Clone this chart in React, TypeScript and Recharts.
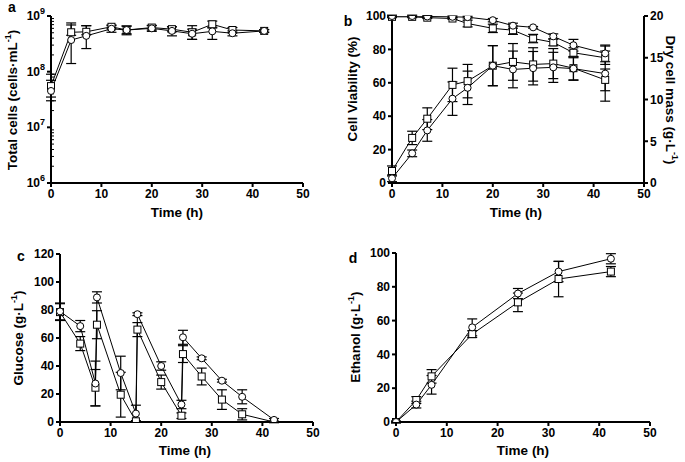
import React from 'react';
import { LineChart, Line, XAxis, YAxis, ErrorBar } from 'recharts';

const FONT = '"Liberation Sans", Arial, Helvetica, sans-serif';

// a: total cells (log scale)
const timeA = [0, 4, 7, 12, 15, 20, 24, 28, 32, 36, 42.3];
const cellsCircle = [4.5e7, 3.7e8, 4.4e8, 5.9e8, 5.6e8, 6.0e8, 5.4e8, 4.8e8, 5.3e8, 4.9e8, 5.4e8];
const cellsCircleErr = [[1.5e7, 2.5e7], [2.3e8, 3.2e8], [1.8e8, 2.3e8], [0.8e8, 0.8e8], [1.0e8, 1.0e8], [0.7e8, 0.7e8], [1.0e8, 1.0e8], [1.0e8, 1.0e8], [1.5e8, 1.0e8], [0.5e8, 0.5e8], [0.3e8, 0.3e8]];
const cellsSquare = [5.5e7, 5.1e8, 5.2e8, 6.4e8, 5.6e8, 6.2e8, 5.8e8, 5.1e8, 7.1e8, 5.6e8, 5.4e8];
const cellsSquareErr = [[2.0e7, 3.5e7], [0.6e8, 2.4e8], [0.6e8, 1.5e8], [0.5e8, 0.5e8], [0.8e8, 1.0e8], [0.6e8, 0.6e8], [0.6e8, 0.6e8], [1.3e8, 1.6e8], [1.0e8, 1.0e8], [0.6e8, 0.6e8], [0.3e8, 0.3e8]];
const logTicks = [1e6, 1e7, 1e8, 1e9];
const logMinorTicks = [2, 3, 4, 5, 6, 7, 8, 9].flatMap((m) => [m * 1e6, m * 1e7, m * 1e8]);

// b: viability (left) and dry cell mass (right)
const timeB = [0, 4, 7, 12, 15, 20, 24, 28, 32, 36, 42.3];
const viabCircle = [100, 100, 99.7, 99.5, 99.3, 97.5, 94.2, 93.2, 87.8, 82.5, 77.6];
const viabCircleErr = [0.5, 0.5, 0.5, 0.5, 0.5, 1, 1.5, 0.5, 1.5, 3.5, 5];
const viabSquare = [99.5, 99.5, 99, 98.5, 95.5, 92.6, 91.5, 86.5, 84.2, 78, 75];
const viabSquareErr = [0.5, 0.5, 0.5, 0.5, 2, 2.5, 2.5, 2.5, 2, 3, 4];
const dryCircle = [0.56, 3.55, 6.3, 10.1, 11.4, 14.05, 13.6, 13.75, 13.85, 13.7, 13.1];
const dryCircleErr = [0.4, 0.4, 1.3, 2, 2, 2.4, 2.2, 2, 1.8, 1.4, 3.3];
const drySquare = [1.44, 5.4, 7.7, 11.75, 12.2, 14.05, 14.5, 14.2, 14.3, 13.75, 12.35];
const drySquareErr = [0.6, 0.8, 1.3, 2, 2, 2.4, 2.2, 2, 1.8, 1.4, 1.3];

// c: glucose
const timeC = [0, 4, 7, 7.3, 12, 15, 15.3, 20, 24, 24.3, 28, 32, 36, 42.3];
const glucCircle = [79, 68.5, 27.5, 89, 35, 6, 77, 40, 12.5, 60.5, 45.5, 29.5, 18, 1.5];
const glucCircleErr = [6, 4, 16, 4, 12, 6, 1, 3, 3, 5, 1, 1, 5, 1];
const glucSquare = [78.5, 56, 24.5, 69.5, 19.5, 0.5, 66, 28.5, 4.5, 48.5, 32.5, 16, 5.5, 0];
const glucSquareErr = [6, 5, 13, 10, 16, 0.5, 5, 5, 2, 6, 6, 7, 4, 0.5];

// d: ethanol
const timeD = [0, 4, 7, 15, 24, 32, 42.3];
const ethCircle = [0, 10.3, 22, 56, 76, 89, 96.6];
const ethCircleErr = [0.5, 2, 5.5, 5, 3, 6, 3];
const ethSquare = [0, 13, 27, 52, 70.8, 84.6, 89];
const ethSquareErr = [0.5, 2, 4, 2, 5.5, 10.5, 3];

const xTicks = [0, 10, 20, 30, 40, 50];

const dataA = timeA.map((t, i) => ({ t, c: cellsCircle[i], ce: cellsCircleErr[i], s: cellsSquare[i], se: cellsSquareErr[i] }));
const dataB = timeB.map((t, i) => ({
  t,
  vc: viabCircle[i], vce: viabCircleErr[i], vs: viabSquare[i], vse: viabSquareErr[i],
  dc: dryCircle[i], dce: dryCircleErr[i], ds: drySquare[i], dse: drySquareErr[i],
}));
const dataC = timeC.map((t, i) => ({ t, c: glucCircle[i], ce: glucCircleErr[i], s: glucSquare[i], se: glucSquareErr[i] }));
const dataD = timeD.map((t, i) => ({ t, c: ethCircle[i], ce: ethCircleErr[i], s: ethSquare[i], se: ethSquareErr[i] }));

const tickStyle = { fill: '#000', fontSize: 12, fontWeight: 700, fontFamily: FONT };
const axisStroke = { stroke: '#000', strokeWidth: 2 };
const circleDot = { r: 3.5, fill: '#fff', stroke: '#000', strokeWidth: 1 };

function SquareDot(props: any) {
  const { cx, cy, index } = props;
  if (cx == null || cy == null) return <g key={`n-${index}`} />;
  return <rect key={`sq-${index}`} x={cx - 3.5} y={cy - 3.5} width={7} height={7} fill="#fff" stroke="#000" strokeWidth={1} />;
}

function PowTick(props: any) {
  const { x, y, payload } = props;
  const exp = Math.round(Math.log10(payload.value));
  return (
    <text x={x} y={y + 4} textAnchor="end" style={tickStyle}>
      10<tspan dy={-6} fontSize={9}>{exp}</tspan>
    </text>
  );
}

function series(key: string, errKey: string, square: boolean, yAxisId: string | number = 0) {
  return (
    <Line
      key={key}
      yAxisId={yAxisId}
      dataKey={key}
      stroke="#000"
      strokeWidth={1}
      dot={square ? (p: any) => <SquareDot {...p} /> : circleDot}
      activeDot={false}
      isAnimationActive={false}
    >
      <ErrorBar dataKey={errKey} width={5} stroke="#000" strokeWidth={1.2} direction="y" />
    </Line>
  );
}

function timeAxis() {
  return (
    <XAxis
      type="number"
      dataKey="t"
      domain={[0, 50]}
      ticks={xTicks}
      interval={0}
      tickSize={4}
      tickMargin={2}
      height={30}
      axisLine={axisStroke}
      tickLine={axisStroke}
      tick={tickStyle}
    />
  );
}

const labelStyle = { fill: '#000', fontSize: 13.5, fontWeight: 700, fontFamily: FONT };

export default function App() {
  return (
    <div style={{ position: 'absolute', left: 0, top: 0, width: 685, height: 462, background: '#fff' }}>
      <div style={{ position: 'absolute', left: 0, top: 0 }}>
        <LineChart width={340} height={230} data={dataA} margin={{ top: 16, right: 37, bottom: 17, left: 0 }}>
          {timeAxis()}
          <YAxis
            scale="log"
            domain={[1e6, 1e9]}
            allowDataOverflow
            ticks={logTicks}
            interval={0}
            width={51}
            tickSize={4}
            tickMargin={2}
            axisLine={axisStroke}
            tickLine={axisStroke}
            tick={<PowTick />}
          />
          <YAxis
            yAxisId="minor"
            scale="log"
            domain={[1e6, 1e9]}
            allowDataOverflow
            ticks={logMinorTicks}
            interval={0}
            mirror
            axisLine={false}
            tickSize={3}
            tickLine={{ stroke: '#000', strokeWidth: 1 }}
            tick={() => <g />}
          />
          {series('s', 'se', true)}
          {series('c', 'ce', false)}
        </LineChart>
      </div>

      <div style={{ position: 'absolute', left: 340, top: 0 }}>
        <LineChart width={345} height={230} data={dataB} margin={{ top: 16, right: 11, bottom: 17, left: 0 }}>
          {timeAxis()}
          <YAxis
            domain={[0, 100]}
            allowDataOverflow
            ticks={[0, 20, 40, 60, 80, 100]}
            interval={0}
            width={52}
            tickSize={4}
            tickMargin={2}
            axisLine={axisStroke}
            tickLine={axisStroke}
            tick={tickStyle}
          />
          <YAxis
            yAxisId="right"
            orientation="right"
            domain={[0, 20]}
            allowDataOverflow
            ticks={[0, 5, 10, 15, 20]}
            interval={0}
            width={30}
            tickSize={4}
            tickMargin={2}
            axisLine={axisStroke}
            tickLine={axisStroke}
            tick={tickStyle}
          />
          {series('vs', 'vse', true)}
          {series('vc', 'vce', false)}
          {series('ds', 'dse', true, 'right')}
          {series('dc', 'dce', false, 'right')}
        </LineChart>
      </div>

      <div style={{ position: 'absolute', left: 0, top: 230 }}>
        <LineChart width={340} height={232} data={dataC} margin={{ top: 24, right: 27, bottom: 10, left: 0 }}>
          {timeAxis()}
          <YAxis
            domain={[0, 120]}
            allowDataOverflow
            ticks={[0, 20, 40, 60, 80, 100, 120]}
            interval={0}
            width={60}
            tickSize={4}
            tickMargin={2}
            axisLine={axisStroke}
            tickLine={axisStroke}
            tick={tickStyle}
          />
          {series('s', 'se', true)}
          {series('c', 'ce', false)}
        </LineChart>
      </div>

      <div style={{ position: 'absolute', left: 340, top: 230 }}>
        <LineChart width={345} height={232} data={dataD} margin={{ top: 23, right: 35, bottom: 10, left: 0 }}>
          {timeAxis()}
          <YAxis
            domain={[0, 100]}
            allowDataOverflow
            ticks={[0, 20, 40, 60, 80, 100]}
            interval={0}
            width={56}
            tickSize={4}
            tickMargin={2}
            axisLine={axisStroke}
            tickLine={axisStroke}
            tick={tickStyle}
          />
          {series('s', 'se', true)}
          {series('c', 'ce', false)}
        </LineChart>
      </div>

      <svg width={685} height={462} style={{ position: 'absolute', left: 0, top: 0, pointerEvents: 'none' }}>
        <g style={labelStyle}>
          <text x={12} y={12} textAnchor="middle" fontSize={14}>a</text>
          <text x={348} y={26} textAnchor="middle" fontSize={14}>b</text>
          <text x={21} y={261} textAnchor="middle" fontSize={14}>c</text>
          <text x={353} y={263} textAnchor="middle" fontSize={14}>d</text>

          <text x={177} y={217} textAnchor="middle">Time (h)</text>
          <text x={516} y={217} textAnchor="middle">Time (h)</text>
          <text x={185} y={455} textAnchor="middle">Time (h)</text>
          <text x={523} y={455} textAnchor="middle">Time (h)</text>

          <text transform="translate(17,100) rotate(-90)" textAnchor="middle">
            Total cells (cells·mL<tspan dy={-6} fontSize={9}>-1</tspan><tspan dy={6}>)</tspan>
          </text>
          <text transform="translate(357,89) rotate(-90)" textAnchor="middle">Cell Viability (%)</text>
          <text transform="translate(666,100) rotate(90)" textAnchor="middle">
            Dry cell mass (g·L<tspan dy={-6} fontSize={9}>-1</tspan><tspan dy={6}>)</tspan>
          </text>
          <text transform="translate(23,338) rotate(-90)" textAnchor="middle">
            Glucose (g·L<tspan dy={-6} fontSize={9}>-1</tspan><tspan dy={6}>)</tspan>
          </text>
          <text transform="translate(360,337) rotate(-90)" textAnchor="middle">
            Ethanol (g·L<tspan dy={-6} fontSize={9}>-1</tspan><tspan dy={6}>)</tspan>
          </text>
        </g>
      </svg>
    </div>
  );
}
